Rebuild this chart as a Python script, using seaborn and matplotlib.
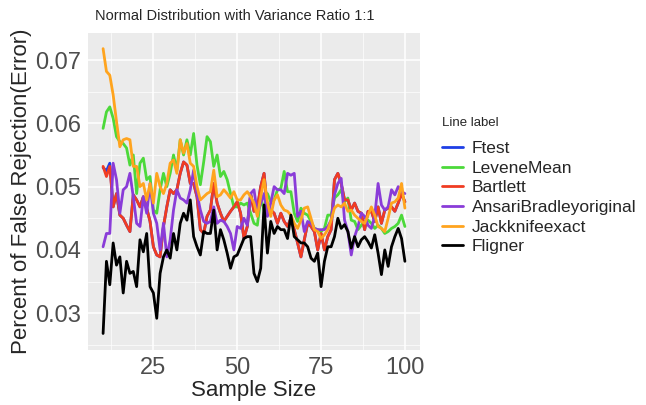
import seaborn as sns
import pandas as pd
import numpy as np
import matplotlib.pyplot as plt
from matplotlib.ticker import MultipleLocator

sample_size = list(range(10, 101))

ftest = [0.0530, 0.0525, 0.0537, 0.0468, 0.0489, 0.0455, 0.0450, 0.0439, 0.0429, 0.0487,
         0.0479, 0.0468, 0.0484, 0.0466, 0.0445, 0.0405, 0.0392, 0.0389, 0.0437, 0.0468,
         0.0495, 0.0489, 0.0495, 0.0521, 0.0539, 0.0534, 0.0505, 0.0505, 0.0484, 0.0432,
         0.0426, 0.0453, 0.0463, 0.0505, 0.0474, 0.0458, 0.0445, 0.0453, 0.0461, 0.0468,
         0.0476, 0.0458, 0.0418, 0.0437, 0.0489, 0.0461, 0.0466, 0.0500, 0.0521, 0.0463,
         0.0463, 0.0458, 0.0442, 0.0458, 0.0445, 0.0437, 0.0450, 0.0432, 0.0411, 0.0389,
         0.0416, 0.0442, 0.0437, 0.0429, 0.0400, 0.0426, 0.0400, 0.0421, 0.0432, 0.0511,
         0.0521, 0.0505, 0.0479, 0.0479, 0.0463, 0.0474, 0.0461, 0.0458, 0.0432, 0.0461,
         0.0461, 0.0445, 0.0468, 0.0442, 0.0463, 0.0466, 0.0468, 0.0461, 0.0474, 0.0489,
         0.0476]

levene_mean = [0.0592, 0.0618, 0.0626, 0.0608, 0.0579, 0.0571, 0.0568, 0.0561, 0.0534, 0.0550,
               0.0489, 0.0537, 0.0545, 0.0511, 0.0516, 0.0463, 0.0458, 0.0495, 0.0521, 0.0500,
               0.0521, 0.0550, 0.0526, 0.0574, 0.0550, 0.0574, 0.0550, 0.0584, 0.0534, 0.0503,
               0.0539, 0.0579, 0.0571, 0.0532, 0.0550, 0.0516, 0.0524, 0.0511, 0.0489, 0.0468,
               0.0468, 0.0474, 0.0471, 0.0474, 0.0458, 0.0442, 0.0439, 0.0482, 0.0463, 0.0489,
               0.0476, 0.0479, 0.0495, 0.0497, 0.0524, 0.0492, 0.0492, 0.0458, 0.0445, 0.0466,
               0.0458, 0.0455, 0.0445, 0.0434, 0.0432, 0.0429, 0.0434, 0.0455, 0.0455, 0.0482,
               0.0487, 0.0495, 0.0476, 0.0482, 0.0447, 0.0445, 0.0432, 0.0439, 0.0445, 0.0447,
               0.0442, 0.0434, 0.0439, 0.0434, 0.0426, 0.0429, 0.0434, 0.0437, 0.0442, 0.0455,
               0.0437]

bartlett = [0.0532, 0.0516, 0.0532, 0.0468, 0.0489, 0.0455, 0.0450, 0.0439, 0.0429, 0.0487,
            0.0479, 0.0468, 0.0484, 0.0466, 0.0445, 0.0405, 0.0392, 0.0389, 0.0437, 0.0468,
            0.0495, 0.0489, 0.0495, 0.0521, 0.0539, 0.0534, 0.0505, 0.0505, 0.0484, 0.0432,
            0.0426, 0.0453, 0.0463, 0.0505, 0.0474, 0.0458, 0.0445, 0.0453, 0.0461, 0.0468,
            0.0476, 0.0458, 0.0418, 0.0437, 0.0489, 0.0461, 0.0466, 0.0500, 0.0521, 0.0463,
            0.0463, 0.0458, 0.0442, 0.0458, 0.0445, 0.0437, 0.0450, 0.0432, 0.0411, 0.0389,
            0.0416, 0.0442, 0.0437, 0.0429, 0.0400, 0.0426, 0.0400, 0.0421, 0.0432, 0.0511,
            0.0521, 0.0505, 0.0479, 0.0479, 0.0463, 0.0474, 0.0461, 0.0458, 0.0432, 0.0461,
            0.0461, 0.0445, 0.0468, 0.0442, 0.0463, 0.0466, 0.0468, 0.0461, 0.0474, 0.0489,
            0.0476]

ansari = [0.0405, 0.0426, 0.0426, 0.0537, 0.0511, 0.0458, 0.0495, 0.0500, 0.0521, 0.0484,
          0.0442, 0.0437, 0.0484, 0.0458, 0.0505, 0.0458, 0.0442, 0.0400, 0.0442, 0.0389,
          0.0416, 0.0463, 0.0495, 0.0482, 0.0479, 0.0474, 0.0495, 0.0526, 0.0489, 0.0463,
          0.0445, 0.0442, 0.0445, 0.0468, 0.0442, 0.0447, 0.0445, 0.0437, 0.0426, 0.0400,
          0.0437, 0.0434, 0.0450, 0.0439, 0.0489, 0.0495, 0.0458, 0.0474, 0.0489, 0.0453,
          0.0474, 0.0500, 0.0495, 0.0495, 0.0489, 0.0521, 0.0518, 0.0521, 0.0453, 0.0461,
          0.0429, 0.0445, 0.0442, 0.0434, 0.0432, 0.0432, 0.0432, 0.0437, 0.0447, 0.0487,
          0.0505, 0.0513, 0.0447, 0.0429, 0.0392, 0.0421, 0.0437, 0.0458, 0.0453, 0.0439,
          0.0434, 0.0453, 0.0505, 0.0471, 0.0463, 0.0468, 0.0495, 0.0487, 0.0500, 0.0492,
          0.0489]

jackknife = [0.0718, 0.0682, 0.0676, 0.0645, 0.0603, 0.0563, 0.0574, 0.0576, 0.0574, 0.0532,
             0.0532, 0.0500, 0.0505, 0.0479, 0.0505, 0.0474, 0.0521, 0.0500, 0.0489, 0.0505,
             0.0537, 0.0542, 0.0521, 0.0574, 0.0553, 0.0568, 0.0537, 0.0532, 0.0500, 0.0479,
             0.0484, 0.0489, 0.0492, 0.0526, 0.0484, 0.0487, 0.0495, 0.0489, 0.0482, 0.0492,
             0.0479, 0.0479, 0.0487, 0.0492, 0.0484, 0.0474, 0.0453, 0.0484, 0.0511, 0.0476,
             0.0453, 0.0479, 0.0487, 0.0471, 0.0463, 0.0461, 0.0455, 0.0442, 0.0434, 0.0447,
             0.0466, 0.0468, 0.0450, 0.0432, 0.0429, 0.0418, 0.0424, 0.0432, 0.0447, 0.0466,
             0.0471, 0.0468, 0.0474, 0.0461, 0.0463, 0.0455, 0.0450, 0.0445, 0.0442, 0.0455,
             0.0468, 0.0455, 0.0437, 0.0434, 0.0429, 0.0450, 0.0474, 0.0476, 0.0482, 0.0505,
             0.0466]

fligner = [0.0268, 0.0382, 0.0345, 0.0411, 0.0376, 0.0389, 0.0332, 0.0382, 0.0363, 0.0366,
           0.0342, 0.0416, 0.0397, 0.0426, 0.0342, 0.0332, 0.0292, 0.0363, 0.0389, 0.0400,
           0.0387, 0.0426, 0.0400, 0.0442, 0.0458, 0.0447, 0.0479, 0.0421, 0.0405, 0.0392,
           0.0429, 0.0426, 0.0426, 0.0463, 0.0400, 0.0432, 0.0416, 0.0395, 0.0371, 0.0389,
           0.0392, 0.0405, 0.0418, 0.0421, 0.0421, 0.0363, 0.0350, 0.0371, 0.0471, 0.0395,
           0.0445, 0.0426, 0.0437, 0.0432, 0.0432, 0.0418, 0.0455, 0.0421, 0.0416, 0.0411,
           0.0411, 0.0405, 0.0387, 0.0382, 0.0395, 0.0342, 0.0382, 0.0405, 0.0405, 0.0421,
           0.0450, 0.0434, 0.0440, 0.0429, 0.0403, 0.0421, 0.0405, 0.0416, 0.0421, 0.0413,
           0.0403, 0.0424, 0.0395, 0.0361, 0.0400, 0.0374, 0.0405, 0.0421, 0.0434, 0.0418,
           0.0382]

labels = ['Ftest', 'LeveneMean', 'Bartlett', 'AnsariBradleyoriginal', 'Jackknifeexact', 'Fligner']
colors = ['#1E3FE6', '#4CD93A', '#F03C22', '#8A3CD8', '#FFA41E', '#000000']

series = [ftest, levene_mean, bartlett, ansari, jackknife, fligner]
df = pd.concat([pd.DataFrame({'Sample Size': sample_size, 'value': s, 'Line label': lab})
                for s, lab in zip(series, labels)], ignore_index=True)

sns.set_style('darkgrid', {'axes.facecolor': '#EBEBEB', 'grid.color': 'white'})
plt.rcParams['font.family'] = ['Liberation Sans', 'DejaVu Sans']

fig = plt.figure(figsize=(6.46, 4.05), dpi=100)
ax = fig.add_axes([88 / 646, 1 - 350 / 405, 332 / 646, 317 / 405])

sns.lineplot(data=df, x='Sample Size', y='value', hue='Line label', hue_order=labels,
             palette=colors, linewidth=2.0, ax=ax, legend=True)

ax.set_xlim(5.5, 104.5)
ax.set_ylim(0.02419, 0.07427)
ax.xaxis.set_major_locator(MultipleLocator(25))
ax.xaxis.set_minor_locator(MultipleLocator(12.5))
ax.yaxis.set_major_locator(MultipleLocator(0.01))
ax.yaxis.set_minor_locator(MultipleLocator(0.005))
ax.grid(which='major', color='white', linewidth=1.1)
ax.grid(which='minor', color='white', linewidth=0.5)
for sp in ax.spines.values():
    sp.set_visible(False)
ax.tick_params(which='major', length=3, width=0.8, color='#333333', labelsize=17,
               labelcolor='#4D4D4D', pad=2)
ax.tick_params(which='minor', length=0)
ax.set_yticks([0.03, 0.04, 0.05, 0.06, 0.07])
ax.set_yticklabels(['0.03', '0.04', '0.05', '0.06', '0.07'])
ax.set_xlabel('Sample Size', fontsize=16, labelpad=1)
ax.set_ylabel('Percent of False Rejection(Error)', fontsize=16)
ax.yaxis.set_label_coords(-0.169, 0.5)
ax.set_title('Normal Distribution with Variance Ratio 1:1', fontsize=10.5, loc='left',
             pad=9, x=0.02)

# legend title drawn separately, ggplot style
fig.text(442 / 646, 1 - 123 / 405, 'Line label', fontsize=9.5, va='center', ha='left')
leg = ax.legend(loc='upper left', bbox_to_anchor=(442 / 646, 1 - 141 / 405),
                bbox_transform=fig.transFigure, frameon=False, fontsize=12.5,
                handlelength=1.2, handletextpad=0.5, borderpad=0,
                labelspacing=0.26, borderaxespad=0)
for line in leg.get_lines():
    line.set_linewidth(2.0)

fig.savefig('out.png', dpi=100)
